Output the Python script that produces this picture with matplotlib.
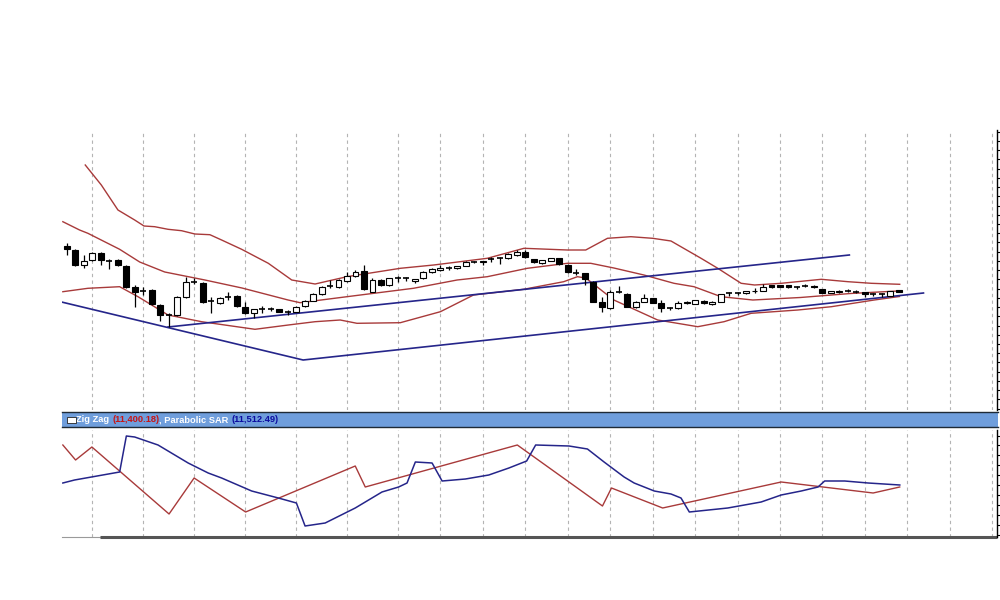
"""
Candlestick chart with Bollinger bands, trend lines and a Zig Zag / Parabolic SAR pane.
"""

import matplotlib
matplotlib.use("Agg")
import matplotlib.pyplot as plt
from matplotlib.patches import Rectangle
import numpy as np

# ---- daily candles (bar index 0..98) ----
opens = [11840, 11800, 11650, 11700, 11767, 11690, 11700, 11640, 11430, 11390,
         11400, 11250, 11150, 11150, 11330, 11483, 11470, 11290, 11270, 11333,
         11340, 11230, 11170, 11210, 11207, 11210, 11183, 11183, 11240, 11293,
         11360, 11440, 11430, 11493, 11540, 11593, 11383, 11500, 11450, 11517,
         11517, 11493, 11517, 11583, 11600, 11617, 11620, 11643, 11683, 11680,
         11707, 11717, 11717, 11750, 11783, 11710, 11667, 11693, 11717, 11650,
         11573, 11567, 11483, 11283, 11217, 11383, 11360, 11227, 11283, 11317,
         11273, 11217, 11217, 11283, 11260, 11293, 11257, 11283, 11367, 11367,
         11367, 11387, 11393, 11450, 11450, 11450, 11427, 11440, 11443, 11410,
         11373, 11377, 11393, 11383, 11377, 11357, 11357, 11343, 11400]
highs = [11870, 11810, 11750, 11780, 11780, 11710, 11710, 11650, 11450, 11430,
         11410, 11260, 11170, 11340, 11530, 11520, 11480, 11333, 11330, 11383,
         11350, 11280, 11210, 11240, 11227, 11213, 11200, 11240, 11300, 11370,
         11440, 11500, 11510, 11583, 11600, 11650, 11517, 11510, 11520, 11543,
         11533, 11515, 11590, 11617, 11650, 11640, 11645, 11690, 11690, 11695,
         11727, 11733, 11767, 11800, 11800, 11715, 11705, 11720, 11720, 11660,
         11607, 11573, 11490, 11333, 11400, 11440, 11370, 11290, 11360, 11323,
         11300, 11233, 11293, 11290, 11300, 11297, 11287, 11360, 11383, 11383,
         11395, 11417, 11457, 11453, 11453, 11453, 11440, 11460, 11447, 11413,
         11393, 11397, 11407, 11400, 11380, 11367, 11367, 11393, 11403]
lows = [11750, 11640, 11620, 11690, 11650, 11610, 11640, 11420, 11230, 11350,
        11250, 11090, 11030, 11140, 11320, 11460, 11270, 11173, 11260, 11300,
        11230, 11160, 11120, 11173, 11193, 11180, 11150, 11180, 11235, 11290,
        11355, 11417, 11420, 11483, 11533, 11400, 11377, 11440, 11445, 11483,
        11493, 11467, 11510, 11573, 11593, 11600, 11615, 11640, 11667, 11650,
        11683, 11660, 11710, 11745, 11720, 11673, 11663, 11690, 11655, 11570,
        11550, 11450, 11277, 11183, 11207, 11367, 11227, 11220, 11277, 11267,
        11183, 11200, 11210, 11263, 11257, 11263, 11253, 11280, 11343, 11350,
        11365, 11367, 11387, 11423, 11430, 11423, 11407, 11427, 11423, 11370,
        11370, 11373, 11383, 11373, 11333, 11343, 11333, 11340, 11383]
closes = [11810, 11650, 11693, 11767, 11700, 11690, 11650, 11430, 11380, 11390,
          11260, 11150, 11150, 11330, 11480, 11483, 11280, 11290, 11323, 11333,
          11240, 11170, 11210, 11210, 11207, 11180, 11183, 11233, 11293, 11360,
          11427, 11440, 11500, 11540, 11583, 11407, 11500, 11450, 11517, 11517,
          11517, 11513, 11583, 11607, 11623, 11617, 11640, 11683, 11683, 11693,
          11707, 11717, 11760, 11783, 11727, 11677, 11700, 11717, 11660, 11577,
          11573, 11507, 11283, 11233, 11383, 11383, 11233, 11283, 11317, 11273,
          11217, 11217, 11273, 11267, 11300, 11267, 11283, 11357, 11367, 11367,
          11390, 11393, 11433, 11427, 11433, 11427, 11427, 11440, 11427, 11373,
          11390, 11393, 11393, 11383, 11360, 11357, 11357, 11390, 11383]

# ---- Bollinger bands (bar index, price) ----
upper_x = [2.17, 4.06, 6.02, 7.99, 9.09, 10.35, 11.92, 13.51, 15.08, 16.85, 18.23,
           20.59, 23.73, 26.49, 29.24, 32.99, 39.28, 43.21, 49.52, 53.84, 58.96,
           61.12, 63.68, 66.43, 69.0, 71.16, 74.7, 76.67, 79.42, 81.0, 84.14,
           88.86, 92.01, 94.76, 98.1]
upper_y = [12650, 12450, 12200, 12100, 12040, 12033, 12007, 11993, 11960, 11953, 11900,
           11807, 11667, 11500, 11460, 11533, 11617, 11650, 11717, 11817, 11800,
           11800, 11917, 11933, 11917, 11890, 11717, 11617, 11467, 11450, 11467,
           11507, 11483, 11467, 11457]
middle_x = [-0.47, 1.5, 2.48, 6.22, 8.58, 11.53, 16.26, 20.63, 26.06, 27.47, 32.99,
            40.82, 45.97, 49.52, 54.24, 58.96, 61.71, 64.43, 67.97, 71.51, 73.87,
            77.06, 80.8, 86.4, 92.3, 97.9]
middle_y = [12083, 12000, 11967, 11807, 11680, 11580, 11500, 11420, 11300, 11273, 11333,
            11417, 11500, 11533, 11617, 11667, 11667, 11620, 11550, 11467, 11433,
            11333, 11300, 11325, 11365, 11390]
lower_x = [-0.47, 2.48, 6.22, 8.38, 11.92, 15.87, 22.16, 26.09, 29.24, 32.2, 34.17,
           39.28, 44.0, 47.9, 53.8, 58.52, 60.14, 61.12, 64.43, 69.59, 74.31,
           77.41, 80.6, 86.11, 90.05, 95.1, 98.07]
lower_y = [11383, 11417, 11433, 11333, 11150, 11083, 11007, 11050, 11083, 11100, 11067,
           11073, 11183, 11350, 11407, 11483, 11533, 11520, 11300, 11100, 11033,
           11083, 11167, 11200, 11233, 11300, 11335]

# ---- trend lines ----
trend_a_x = [11.92, 92.17]
trend_a_y = [11030, 11750]
trend_b_x = [-0.63, 27.83, 100.9]
trend_b_y = [11280, 10700, 11370]

# ---- lower pane: Zig Zag (red) and Parabolic SAR (blue) ----
zig_x = [-0.47, 1.03, 2.95, 12.04, 14.99, 21.06, 33.97, 35.15, 53.06, 63.09,
         64.15, 70.18, 84.14, 94.97, 98.1]
zig_y = [92, 77, 90, 23, 59, 25, 71, 50, 92, 31, 49, 29, 55, 44, 50]
sar_x = [-0.47, 0.91, 6.22, 7.01, 7.99, 10.74, 14.29, 16.65, 18.23, 21.77, 24.91,
         27.04, 28.06, 30.43, 33.97, 37.12, 39.08, 40.07, 41.05, 43.02, 44.2,
         46.95, 49.7, 52.07, 54.16, 55.22, 59.15, 61.32, 63.28, 65.64, 66.82,
         69.19, 71.16, 72.34, 73.32, 77.85, 81.78, 84.14, 86.5, 88.48, 89.26,
         91.62, 94.38, 98.11]
sar_y = [54, 57, 65, 101, 100, 92, 74, 64, 59, 46, 39, 34, 11, 14, 29, 45, 50, 54,
         75, 74, 56, 58, 62, 69, 76, 92, 91, 88, 75, 60, 54, 46, 43, 39, 25, 29,
         35, 42, 46, 50, 56, 56, 54, 52]

grid_idx = [3, 9, 15, 21, 27, 33, 39, 44, 49, 54, 59, 64, 69, 74, 79, 84, 89, 94, 99, 104, 109]

zig_label = "(11,400.18)"
sar_label = "(11,512.49)"

BAND = "#a83a3a"
NAVY = "#25258a"
GRID = "#b4b4b4"
XLIM = (-0.57, 109.56)


def style_pane(ax, ylim, yticks):
    ax.set_xlim(*XLIM)
    ax.set_ylim(*ylim)
    for side in ("top", "left", "bottom"):
        ax.spines[side].set_visible(False)
    ax.spines["right"].set_color("black")
    ax.spines["right"].set_linewidth(1.0)
    ax.set_xticks([])
    ax.yaxis.tick_right()
    ax.set_yticks(yticks)
    ax.tick_params(axis="y", direction="out", length=4, width=0.8,
                   labelright=False, labelleft=False, colors="black")
    for g in grid_idx:
        ax.axvline(g, color=GRID, lw=0.8, ls=(0, (3, 3)), zorder=0)


fig = plt.figure(figsize=(10, 6), dpi=100)
fig.patch.set_facecolor("white")

# ---- price pane ----
ax = fig.add_axes([0.062, 1 - 410 / 600, 0.935, 280 / 600])
style_pane(ax, (10200, 13000), np.arange(12983, 10200, -92.3))

ax.plot(upper_x, upper_y, color=BAND, lw=1.0, zorder=2)
ax.plot(middle_x, middle_y, color=BAND, lw=1.0, zorder=2)
ax.plot(lower_x, lower_y, color=BAND, lw=1.0, zorder=2)
ax.plot(trend_a_x, trend_a_y, color=NAVY, lw=1.2, zorder=2)
ax.plot(trend_b_x, trend_b_y, color=NAVY, lw=1.2, zorder=2)

body_w = 0.7
for i, (o, h, l, c) in enumerate(zip(opens, highs, lows, closes)):
    ax.vlines(i, l, h, color="black", lw=0.9, zorder=3)
    if o == c:
        ax.hlines(o, i - body_w / 2, i + body_w / 2, color="black", lw=1.2, zorder=4)
        continue
    fc = "white" if c > o else "black"
    ax.add_patch(Rectangle((i - body_w / 2, min(o, c)), body_w, abs(c - o),
                           facecolor=fc, edgecolor="black", lw=0.8, zorder=4))

# ---- header bar ----
hdr = fig.add_axes([0.062, 1 - 427 / 600, 0.936, 15 / 600])
hdr.set_facecolor("#6f9edc")
hdr.set_xticks([])
hdr.set_yticks([])
for side in ("left", "right"):
    hdr.spines[side].set_visible(False)
for side in ("top", "bottom"):
    hdr.spines[side].set_color("#1e2a36")
    hdr.spines[side].set_linewidth(1.0)

fig.patches.append(Rectangle((0.0665, 1 - 423 / 600), 0.009, 6 / 600,
                             transform=fig.transFigure, facecolor="white",
                             edgecolor="#222222", lw=0.6, zorder=5))

pieces = [("Zig Zag ", "white"), (zig_label, "#c81414"),
          (", Parabolic SAR ", "white"), (sar_label, "#0c0ca0")]
renderer = fig.canvas.get_renderer()
x_pos = 0.0765
for txt, col in pieces:
    t = fig.text(x_pos, 1 - 420 / 600, txt, color=col, fontsize=6.7,
                 fontweight="bold", family="Liberation Sans", va="center", ha="left")
    bb = t.get_window_extent(renderer=renderer)
    x_pos += bb.width / fig.bbox.width

# ---- indicator pane ----
ax2 = fig.add_axes([0.062, 1 - 537 / 600, 0.935, 107 / 600])
style_pane(ax2, (0, 107), [2, 12, 22, 32, 42, 52, 62, 72, 82, 92, 101])
ax2.plot(zig_x, zig_y, color=BAND, lw=1.0, zorder=2)
ax2.plot(sar_x, sar_y, color=NAVY, lw=1.1, zorder=3)

# bottom border of the indicator pane
ax2.plot([XLIM[0], 3.9], [0, 0], color="#9a9a9a", lw=0.8, clip_on=False)
ax2.plot([3.9, XLIM[1]], [0, 0], color="#555555", lw=2.2, clip_on=False,
         solid_capstyle="butt")

fig.savefig("out.png", dpi=100)
